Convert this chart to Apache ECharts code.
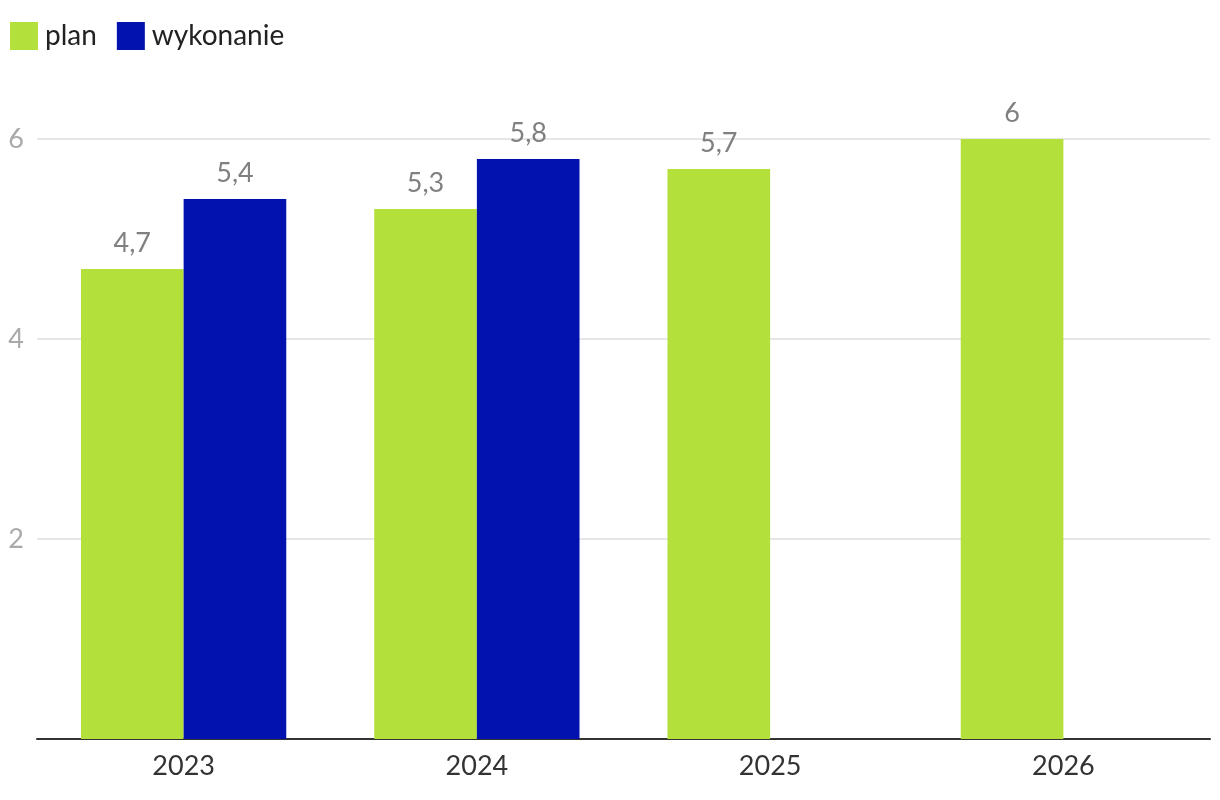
<!DOCTYPE html>
<html><head><meta charset="utf-8">
<script src="https://cdn.jsdelivr.net/npm/echarts@6/dist/echarts.min.js"></script>
<style>html,body{margin:0;padding:0;background:#fff}#c{width:1220px;height:800px}</style>
</head><body><div id="c"></div>
<script>
const categories = ['2023', '2024', '2025', '2026'];
const planValues = [4.7, 5.3, 5.7, 6];
const wykonanieValues = [5.4, 5.8, null, null];
const yTicks = [0, 2, 4, 6];
const seriesNames = ['plan', 'wykonanie'];

const fmt = v => String(v).replace('.', ',');
const chart = echarts.init(document.getElementById('c'));
const labelStyle = {show: true, position: 'top', distance: 12, color: '#808080', fontSize: 27, fontFamily: 'Lato', formatter: p => fmt(p.value)};
chart.setOption({
  animation: false,
  textStyle: {fontFamily: 'Lato'},
  legend: {
    left: 5, top: 17, itemWidth: 28, itemHeight: 28, itemGap: 20,
    textStyle: {fontSize: 28, color: '#222', fontFamily: 'Lato', padding: [0, 0, 0, 2]},
    data: seriesNames, icon: 'rect'
  },
  grid: {left: 37, right: 10, top: 139, bottom: 61, containLabel: false},
  xAxis: {
    type: 'category', data: categories,
    axisLine: {lineStyle: {color: '#333', width: 2}},
    axisTick: {show: false},
    axisLabel: {color: '#333', fontSize: 27, margin: 14, fontFamily: 'Lato'}
  },
  yAxis: {
    type: 'value', min: yTicks[0], max: yTicks[yTicks.length - 1], interval: 2,
    axisLine: {show: false}, axisTick: {show: false},
    axisLabel: {color: '#aaa', fontSize: 27, margin: 13, showMinLabel: false, fontFamily: 'Lato'},
    splitLine: {lineStyle: {color: '#e6e6e6', width: 2}}
  },
  series: [
    {name: seriesNames[0], type: 'bar', data: planValues, itemStyle: {color: '#b3e03a'}, barGap: '0%', barCategoryGap: '30%', label: labelStyle},
    {name: seriesNames[1], type: 'bar', data: wykonanieValues, itemStyle: {color: '#0212ae'}, label: labelStyle}
  ]
});
</script></body></html>
